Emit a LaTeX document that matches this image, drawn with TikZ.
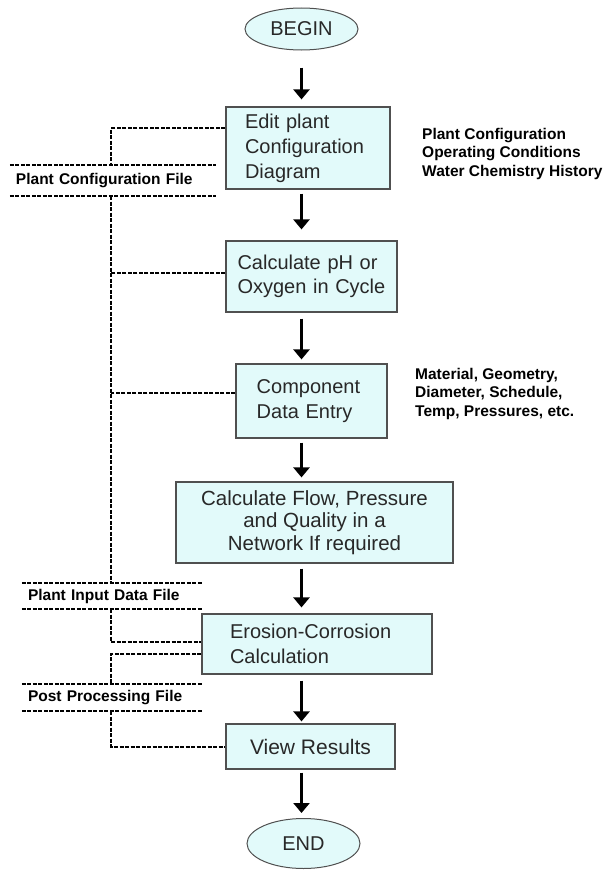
\documentclass[tikz,border=0pt]{standalone}
\usepackage{fontspec}
\setmainfont{Liberation Sans}
\usetikzlibrary{arrows.meta,shapes.geometric}
\definecolor{boxfill}{RGB}{226,250,250}
\definecolor{boxline}{RGB}{80,80,80}
\definecolor{boxtext}{RGB}{40,40,40}
\tikzset{
  proc/.style={draw=boxline,line width=1.2pt,fill=boxfill,text=boxtext,inner ysep=0pt,font=\fontsize{20}{25}\selectfont},
  term/.style={ellipse,draw=boxline,line width=1pt,fill=boxfill,text=boxtext,inner sep=0pt,minimum width=113pt,font=\fontsize{20}{24}\selectfont},
  note/.style={align=left,anchor=west,inner sep=0pt,font=\bfseries\fontsize{15.5}{18.5}\selectfont},
  filelbl/.style={align=left,inner ysep=0pt,inner xsep=6pt,font=\bfseries\fontsize{15.5}{18.5}\selectfont},
  link/.style={line width=2pt,dash pattern=on 4pt off 1.5pt},
  arr/.style={line width=3pt,-{Triangle[width=16pt,length=10pt]}}
}
\begin{document}
\begin{tikzpicture}[x=1pt,y=-1pt]
  \useasboundingbox(0,0)rectangle(607,870);
  \node[term,minimum height=42pt](start)at(301.5,29){BEGIN};
  \node[proc,align=left,inner xsep=19pt,text width=126pt,minimum height=82pt](edit)at(308,148){Edit plant\\Configuration\\Diagram};
  \node[proc,align=left,inner xsep=11.5pt,text width=148pt,minimum height=71pt,font=\fontsize{20}{23.5}\selectfont](ph)at(311.5,276.5){Calculate pH or\\Oxygen in Cycle};
  \node[proc,align=left,inner xsep=20.7pt,text width=109.6pt,minimum height=74pt](comp)at(311.5,401){Component\\Data Entry};
  \node[proc,align=center,minimum width=277pt,minimum height=81pt,font=\fontsize{20.5}{22.5}\selectfont](flow)at(314.5,522.5){Calculate Flow, Pressure\\and Quality in a\\Network If required};
  \node[proc,align=left,inner xsep=28pt,text width=174pt,minimum height=60pt](erosion)at(317,644){Erosion-Corrosion\\Calculation};
  \node[proc,align=center,minimum width=169pt,minimum height=45pt,font=\fontsize{21}{25}\selectfont](view)at(310.5,746.5){View Results};
  \node[term,minimum height=50pt](stop)at(303.5,843.5){END};
  \node[note]at(422,153.5){Plant Configuration\\Operating Conditions\\Water Chemistry History};
  \node[note]at(415,393.5){Material, Geometry,\\Diameter, Schedule,\\Temp, Pressures, etc.};
  \node[filelbl,text width=194pt,minimum height=31pt](cfg)at(113,180.5){Plant Configuration File};
  \node[filelbl,text width=168pt,minimum height=26pt](inp)at(112,596){Plant Input Data File};
  \node[filelbl,text width=168pt,minimum height=27pt](post)at(112,697.5){Post Processing File};
  \foreach \f in {cfg,inp,post}{\draw[link](\f.north west)--(\f.north east);\draw[link](\f.south west)--(\f.south east);}
  \coordinate(spine)at(111,0);
  \coordinate(c1)at([yshift=-22pt]edit.north west);\coordinate(c2)at([yshift=4pt]ph.west);
  \coordinate(c3)at([yshift=8pt]comp.west);\coordinate(c4)at([yshift=2pt]erosion.west);
  \coordinate(c5)at([yshift=-10pt]erosion.west);
  \draw[link](c1)-|(spine|-cfg.north);
  \draw[link](spine|-cfg.south)--(spine|-inp.north);
  \draw[link](c2)--(c2-|spine);\draw[link](c3)--(c3-|spine);
  \draw[link](spine|-inp.south)|-(c4);
  \draw[link](c5)-|(spine|-post.north);
  \draw[link](spine|-post.south)|-(view.west);
  \foreach \a/\b/\s/\e in {start/edit/17pt/7pt,edit/ph/4pt/11pt,ph/comp/6pt/4pt,comp/flow/4pt/4pt,flow/erosion/5pt/6pt,erosion/view/6pt/2pt,view/stop/3pt/5pt}
    \draw[arr,shorten <=\s,shorten >=\e](\a.south-|start)--(\b.north-|start);
\end{tikzpicture}
\end{document}
